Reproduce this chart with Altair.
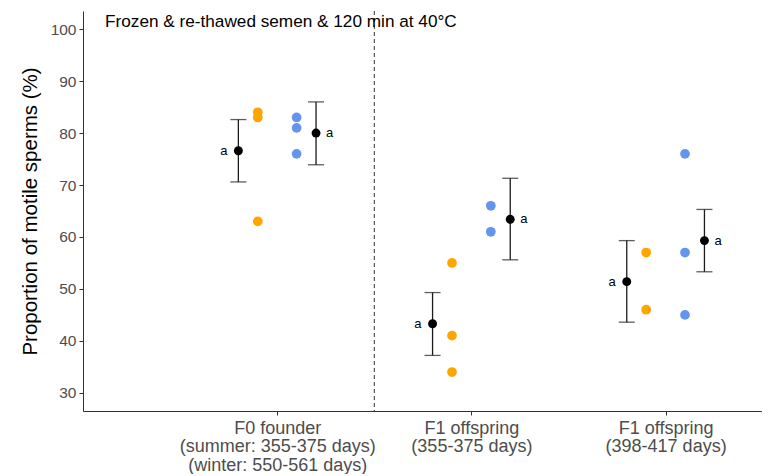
import altair as alt
import pandas as pd

# ---- data ----
group_pos = [1, 2, 3]
group_labels = [
    ["F0 founder", "(summer: 355-375 days)", "(winter: 550-561 days)"],
    ["F1 offspring", "(355-375 days)"],
    ["F1 offspring", "(398-417 days)"],
]
orange_vals = [[84, 83, 63], [55, 41, 34], [57, 46]]
blue_vals = [[83, 81, 76], [66, 61], [76, 57, 45]]

orange_mean = [76.6, 43.3, 51.4]
orange_lo = [70.6, 37.2, 43.6]
orange_hi = [82.6, 49.3, 59.3]
blue_mean = [80.0, 63.4, 59.3]
blue_lo = [73.9, 55.6, 53.3]
blue_hi = [86.0, 71.3, 65.3]
letters_orange = ["a", "a", "a"]
letters_blue = ["a", "a", "a"]

title_text = "Frozen & re-thawed semen & 120 min at 40°C"
y_title = "Proportion of motile sperms (%)"

# ---- build tables ----
pts = []
for g, ov, bv in zip(group_pos, orange_vals, blue_vals):
    for v in ov:
        pts.append({"x": g - 0.1, "y": v, "series": "orange"})
    for v in bv:
        pts.append({"x": g + 0.1, "y": v, "series": "blue"})
pts = pd.DataFrame(pts)

summ = []
for i, g in enumerate(group_pos):
    summ.append({"x": g - 0.2, "mean": orange_mean[i], "lo": orange_lo[i],
                 "hi": orange_hi[i], "lab": letters_orange[i], "side": "L"})
    summ.append({"x": g + 0.2, "mean": blue_mean[i], "lo": blue_lo[i],
                 "hi": blue_hi[i], "lab": letters_blue[i], "side": "R"})
summ = pd.DataFrame(summ)

FONT = "Liberation Sans"

label_expr = "datum.value == 1 ? {0} : datum.value == 2 ? {1} : datum.value == 3 ? {2} : ''".format(
    *[str(l) for l in group_labels]
)

PLOT_W = 679
xscale = alt.Scale(domain=[0, PLOT_W / 194.2], nice=False, zero=False)
yscale = alt.Scale(domain=[26.5, 103.5], nice=False, zero=False)

xaxis = alt.Axis(values=group_pos, labelExpr=label_expr, grid=False, title=None,
                 tickSize=4, labelFontSize=18, labelColor="#4d4d4d",
                 labelLineHeight=18.5, labelPadding=4, labelFont=FONT, labelLimit=0,
                 domainColor="#333333", tickColor="#333333", labelBaseline="top")
yaxis = alt.Axis(values=[30, 40, 50, 60, 70, 80, 90, 100], grid=False, title=y_title,
                 tickSize=4, labelFontSize=15.5, labelColor="#4d4d4d", labelFont=FONT,
                 titleFontSize=20.5, titleFont=FONT, titleColor="black",
                 titleFontWeight="normal", titlePadding=10, labelPadding=3,
                 domainColor="#333333", tickColor="#333333")

base_x = alt.X("x:Q", scale=xscale, axis=xaxis)

vline = alt.Chart(pd.DataFrame({"x": [1.5]})).mark_rule(
    strokeDash=[4, 3], color="#333333", strokeWidth=1
).encode(x=base_x)

dots = alt.Chart(pts).mark_circle(size=95, opacity=1).encode(
    x=base_x,
    y=alt.Y("y:Q", scale=yscale, axis=yaxis),
    color=alt.Color("series:N", scale=alt.Scale(domain=["orange", "blue"],
                                                range=["#FFA500", "#6495ED"]), legend=None),
)

sbase = alt.Chart(summ)
bars = sbase.mark_rule(color="#1a1a1a", strokeWidth=1.3).encode(
    x=base_x, y=alt.Y("lo:Q", scale=yscale), y2="hi:Q")
cap_lo = sbase.mark_tick(orient="horizontal", size=16, thickness=1.3, color="#1a1a1a").encode(
    x=base_x, y=alt.Y("lo:Q", scale=yscale))
cap_hi = sbase.mark_tick(orient="horizontal", size=16, thickness=1.3, color="#1a1a1a").encode(
    x=base_x, y=alt.Y("hi:Q", scale=yscale))
means = sbase.mark_circle(size=80, color="black", opacity=1).encode(
    x=base_x, y=alt.Y("mean:Q", scale=yscale))

lab_l = sbase.transform_filter("datum.side == 'L'").mark_text(
    align="right", baseline="middle", dx=-11, fontSize=13, font=FONT, color="black"
).encode(x=base_x, y=alt.Y("mean:Q", scale=yscale), text="lab:N")
lab_r = sbase.transform_filter("datum.side == 'R'").mark_text(
    align="left", baseline="middle", dx=10, fontSize=13, font=FONT, color="black"
).encode(x=base_x, y=alt.Y("mean:Q", scale=yscale), text="lab:N")

title = alt.Chart(pd.DataFrame({"t": [title_text]})).mark_text(
    align="left", baseline="alphabetic", fontSize=17.2, font=FONT, color="black"
).encode(x=alt.value(22), y=alt.value(16), text="t:N")

chart = alt.layer(vline, dots, bars, cap_lo, cap_hi, means, lab_l, lab_r, title).properties(
    width=PLOT_W, height=400,
    autosize=alt.AutoSizeParams(type="none"),
    padding={"left": 75, "top": 3, "right": 0, "bottom": 63},
    background="white",
).configure_view(stroke=None)

chart.save("out.html", embed_options={"renderer": "svg", "actions": False})
